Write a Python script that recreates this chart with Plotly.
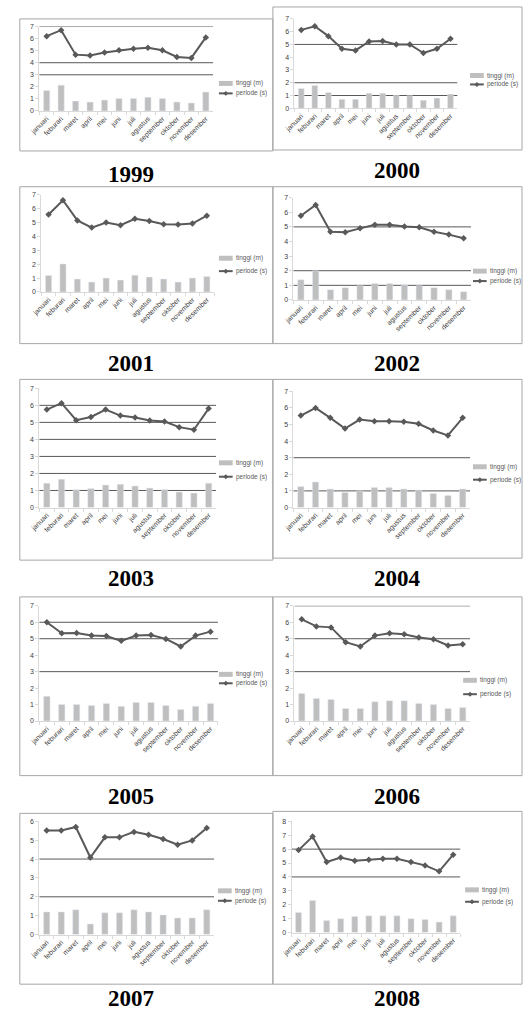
import plotly.graph_objects as go

W, H = 523, 1014

months = ["januari", "feburari", "maret", "april", "mei", "juni", "juli",
          "agustus", "september", "oktober", "november", "desember"]
years = ["1999", "2000", "2001", "2002", "2003", "2004", "2005", "2006", "2007", "2008"]

periode_1999 = [6.2, 6.7, 4.67, 4.59, 4.84, 5.03, 5.16, 5.25, 5.03, 4.48, 4.4, 6.1]
tinggi_1999 = [1.7, 2.14, 0.82, 0.74, 0.9, 1.04, 1.04, 1.13, 1.04, 0.74, 0.66, 1.57]
periode_2000 = [6.14, 6.42, 5.65, 4.66, 4.53, 5.23, 5.26, 5.0, 5.0, 4.33, 4.66, 5.44]
tinggi_2000 = [1.55, 1.79, 1.24, 0.7, 0.7, 1.17, 1.17, 1.01, 0.98, 0.62, 0.8, 1.11]
periode_2001 = [5.58, 6.6, 5.15, 4.63, 4.99, 4.8, 5.27, 5.1, 4.87, 4.85, 4.92, 5.49]
tinggi_2001 = [1.19, 2.02, 0.93, 0.71, 1.0, 0.86, 1.21, 1.07, 0.93, 0.71, 1.0, 1.12]
periode_2002 = [5.76, 6.5, 4.67, 4.63, 4.9, 5.15, 5.15, 5.03, 4.97, 4.67, 4.47, 4.22]
tinggi_2002 = [1.38, 1.99, 0.7, 0.84, 0.97, 1.13, 1.13, 1.04, 0.97, 0.84, 0.7, 0.56]
periode_2003 = [5.75, 6.13, 5.13, 5.32, 5.75, 5.4, 5.28, 5.11, 5.05, 4.72, 4.57, 5.81]
tinggi_2003 = [1.43, 1.66, 1.05, 1.12, 1.32, 1.37, 1.26, 1.14, 1.06, 0.91, 0.85, 1.43]
periode_2004 = [5.54, 6.0, 5.4, 4.76, 5.3, 5.2, 5.2, 5.16, 5.04, 4.64, 4.34, 5.4]
tinggi_2004 = [1.26, 1.54, 1.12, 0.9, 1.0, 1.2, 1.2, 1.12, 1.06, 0.84, 0.72, 1.12]
periode_2005 = [6.0, 5.33, 5.35, 5.19, 5.17, 4.87, 5.19, 5.23, 4.99, 4.53, 5.19, 5.43]
tinggi_2005 = [1.51, 1.01, 1.01, 0.95, 1.07, 0.89, 1.13, 1.13, 0.95, 0.7, 0.89, 1.07]
periode_2006 = [6.18, 5.75, 5.69, 4.79, 4.53, 5.19, 5.33, 5.27, 5.07, 4.97, 4.59, 4.67]
tinggi_2006 = [1.67, 1.37, 1.31, 0.76, 0.76, 1.17, 1.23, 1.23, 1.07, 1.01, 0.76, 0.82]
periode_2007 = [5.52, 5.52, 5.7, 4.08, 5.15, 5.15, 5.44, 5.29, 5.06, 4.76, 4.99, 5.65]
tinggi_2007 = [1.2, 1.2, 1.31, 0.56, 1.15, 1.15, 1.31, 1.2, 1.04, 0.88, 0.88, 1.31]
periode_2008 = [5.93, 6.9, 5.07, 5.4, 5.17, 5.24, 5.3, 5.3, 5.07, 4.83, 4.4, 5.6]
tinggi_2008 = [1.45, 2.3, 0.87, 1.0, 1.15, 1.2, 1.2, 1.2, 1.0, 0.93, 0.75, 1.2]

periode_all = [periode_1999, periode_2000, periode_2001, periode_2002, periode_2003,
               periode_2004, periode_2005, periode_2006, periode_2007, periode_2008]
tinggi_all = [tinggi_1999, tinggi_2000, tinggi_2001, tinggi_2002, tinggi_2003,
              tinggi_2004, tinggi_2005, tinggi_2006, tinggi_2007, tinggi_2008]
ymax_all = [7, 7, 7, 7, 7, 7, 7, 7, 6, 8]
grid_all = [[7, 4, 3], [5, 2, 1], [], [5, 2, 1], [6, 5, 4, 3, 2, 1],
            [3, 1], [6, 5, 3], [7, 5, 3], [4, 2], [6, 4]]

# layout geometry in pixels: plot x0, x1, y at ymax, y at 0
plot_px = [
    (30, 207, 22.7, 107.7), (290, 456, 15, 105),
    (32, 208, 192, 290), (289, 470, 195, 298),
    (30, 210, 387, 507), (289, 469, 390, 507),
    (30, 212, 606, 722), (290, 469, 606, 722),
    (30, 208, 823, 937), (287, 459, 823, 935),
]
box_px = [
    (10, 15, 268, 148), (268, 3, 522, 147),
    (10, 184, 268, 342), (268, 184, 522, 342),
    (10, 378, 268, 560), (268, 378, 522, 558),
    (10, 597, 268, 777), (268, 597, 522, 777),
    (10, 815, 268, 987), (268, 813, 522, 987),
]
title_px = [(123, 172), (395, 168), (123, 362), (395, 362), (123, 578), (395, 578),
            (123, 798), (395, 798), (123, 1001), (395, 1001)]
legend_px = [(213, 80, 90), (469, 72, 81), (213, 256, 269), (472, 269, 279),
             (213, 462, 476), (472, 466, 479), (213, 675, 684), (462, 681, 695),
             (212, 893, 903), (464, 892, 904)]

BAR = "#bfbfbf"
LINE = "#595959"
TXT = "#595959"
AXL = "#d9d9d9"


def px(x):
    return x / W


def py(y):
    return 1 - y / H


fig = go.Figure()
shapes = []
annotations = []
layout_axes = {}

for i in range(10):
    n = i + 1
    xs = "" if n == 1 else str(n)
    x0, x1, yt, yb = plot_px[i]
    fig.add_trace(go.Bar(x=months, y=tinggi_all[i], name="tinggi (m)",
                         marker_color=BAR, width=0.43, showlegend=False,
                         xaxis="x" + xs, yaxis="y" + xs))
    fig.add_trace(go.Scatter(x=months, y=periode_all[i], name="periode (s)",
                             mode="lines+markers",
                             line=dict(color=LINE, width=2),
                             marker=dict(symbol="diamond", size=5, color=LINE),
                             showlegend=False, xaxis="x" + xs, yaxis="y" + xs))
    layout_axes["xaxis" + xs] = dict(
        domain=[px(x0), px(x1)], anchor="y" + xs, type="category",
        range=[-0.5, 11.5], tickangle=-45,
        tickfont=dict(size=7, color="#404040", family="Liberation Sans"),
        showline=True, linecolor=AXL, ticks="outside", tickson="boundaries",
        tickcolor=AXL, ticklen=3, showgrid=False, zeroline=False, fixedrange=True)
    layout_axes["yaxis" + xs] = dict(
        domain=[py(yb), py(yt)], anchor="x" + xs, range=[0, ymax_all[i]],
        dtick=1, tickfont=dict(size=7, color="#404040", family="Liberation Sans"),
        showline=True, linecolor=AXL, ticks="outside", tickcolor=AXL, ticklen=3,
        showgrid=False, zeroline=False, fixedrange=True)
    for v in grid_all[i]:
        shapes.append(dict(type="line", xref="x" + xs + " domain", yref="y" + xs,
                           x0=0, x1=1, y0=v, y1=v, layer="below",
                           line=dict(color=LINE, width=1)))
    bl, bt, br, bb = box_px[i]
    shapes.append(dict(type="rect", xref="paper", yref="paper",
                       x0=px(bl), x1=px(br), y0=py(bb), y1=py(bt), layer="below",
                       line=dict(color="#a6a6a6", width=1)))
    cx, cy = title_px[i]
    annotations.append(dict(text="<b>" + years[i] + "</b>", xref="paper", yref="paper",
                            x=px(cx), y=py(cy), xanchor="center", yanchor="middle",
                            showarrow=False,
                            font=dict(size=23, color="black", family="Liberation Serif")))
    lx, ly1, ly2 = legend_px[i]
    shapes.append(dict(type="rect", xref="paper", yref="paper",
                       x0=px(lx), x1=px(lx + 14), y0=py(ly1 + 2.5), y1=py(ly1 - 2.5),
                       fillcolor=BAR, line=dict(width=0)))
    shapes.append(dict(type="line", xref="paper", yref="paper",
                       x0=px(lx), x1=px(lx + 14), y0=py(ly2), y1=py(ly2),
                       line=dict(color=LINE, width=2)))
    cxm = lx + 7
    d = 2.5
    shapes.append(dict(type="path", xref="paper", yref="paper",
                       path=f"M {px(cxm)} {py(ly2 - d)} L {px(cxm + d)} {py(ly2)} "
                            f"L {px(cxm)} {py(ly2 + d)} L {px(cxm - d)} {py(ly2)} Z",
                       fillcolor=LINE, line=dict(width=0)))
    for txt, ly in (("tinggi (m)", ly1), ("periode (s)", ly2)):
        annotations.append(dict(text=txt, xref="paper", yref="paper",
                                x=px(lx + 15), y=py(ly), xanchor="left", yanchor="middle",
                                showarrow=False,
                                font=dict(size=6.5, color=TXT, family="Liberation Sans")))

fig.update_layout(width=W, height=H, margin=dict(l=0, r=0, t=0, b=0),
                  paper_bgcolor="white", plot_bgcolor="rgba(0,0,0,0)",
                  bargap=0.5, shapes=shapes, annotations=annotations,
                  showlegend=False, **layout_axes)

fig.write_html("out.html")
